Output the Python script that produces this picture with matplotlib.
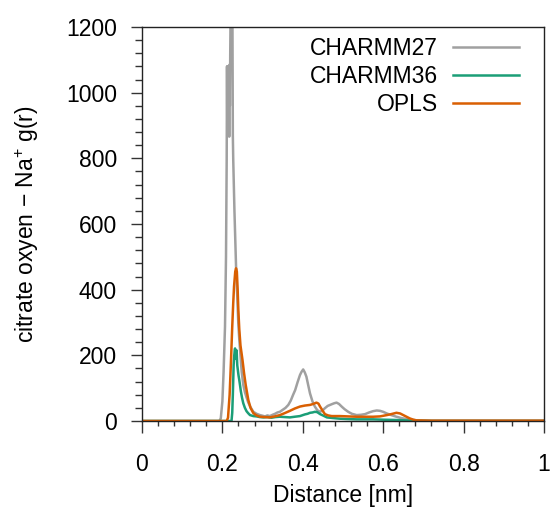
import matplotlib
matplotlib.use("Agg")
from matplotlib import pyplot as plt
from matplotlib.ticker import MultipleLocator, FormatStrFormatter

plt.rcParams['font.family'] = ['Liberation Sans', 'DejaVu Sans']
plt.rcParams['mathtext.default'] = 'regular'

# CHARMM27
c27_x = [0.0, 0.10, 0.18, 0.1925, 0.196, 0.200, 0.203, 0.2065, 0.209, 0.2107, 0.2115, 0.2122,
         0.2130, 0.2138, 0.2146, 0.2154, 0.2162, 0.2170, 0.2178, 0.2186, 0.2195, 0.2205, 0.2215,
         0.2225, 0.2238, 0.2250, 0.2260, 0.2270, 0.2300, 0.2340, 0.2370, 0.2395, 0.2421, 0.2450,
         0.248, 0.252, 0.256, 0.260, 0.2645, 0.270, 0.277, 0.285, 0.2935, 0.300, 0.306, 0.312,
         0.318, 0.325, 0.331, 0.337, 0.343, 0.350, 0.357, 0.364, 0.370, 0.376, 0.381, 0.387,
         0.393, 0.397, 0.401, 0.405, 0.409, 0.413, 0.418, 0.424, 0.430, 0.436, 0.443, 0.449,
         0.455, 0.462, 0.4718, 0.478, 0.484, 0.490, 0.4967, 0.504, 0.513, 0.522, 0.534, 0.545,
         0.555, 0.565, 0.575, 0.584, 0.592, 0.600, 0.609, 0.620, 0.633, 0.645, 0.658, 0.670,
         0.683, 0.72, 0.80, 0.90, 1.0]
c27_y = [0, 0, 0, 0, 8, 60, 150, 287, 500, 795, 1080, 900, 1080, 880, 1075, 870, 1070, 866, 1085,
         960, 1120, 1250, 1260, 1250, 1240, 1230, 870, 795, 640, 470, 380, 300, 247, 200, 150, 110,
         88, 72, 56, 42, 28, 22, 18, 16, 14, 17, 15, 19, 22, 26, 28, 34, 40, 49, 62, 80, 94, 118,
         140, 150, 157, 148, 135, 112, 84, 60, 44, 33, 28, 32, 39, 46, 51, 54, 56, 52, 44, 36,
         28, 22, 18, 19, 21, 26, 30, 32, 31, 28, 23, 18, 13, 9, 6, 4, 2, 1, 1, 1, 1]

# CHARMM36
c36_x = [0.0, 0.10, 0.20, 0.2227, 0.2245, 0.226, 0.228, 0.2295, 0.2315, 0.2325, 0.2340, 0.2355,
         0.2370, 0.2385, 0.2400, 0.2420, 0.2440, 0.2460, 0.249, 0.252, 0.256, 0.260, 0.264,
         0.2687, 0.277, 0.285, 0.293, 0.302, 0.312, 0.322, 0.332, 0.343, 0.355, 0.368, 0.380,
         0.393, 0.405, 0.412, 0.418, 0.424, 0.430, 0.436, 0.443, 0.450, 0.460, 0.475, 0.4925,
         0.510, 0.534, 0.555, 0.575, 0.600, 0.633, 0.655, 0.675, 0.72, 0.80, 0.90, 1.0]
c36_y = [0, 0, 0, 0, 25, 80, 170, 200, 221, 190, 205, 215, 170, 155, 140, 125, 108, 90, 70, 54,
         40, 30, 24, 18, 15, 14, 12, 11, 12, 10, 12, 13, 12, 11, 13, 15, 20, 22, 25, 26, 28, 27,
         21, 17, 11, 9, 7, 6, 5, 5, 5, 4, 3, 2, 1, 0, 0, 0, 0]

# OPLS
opls_x = [0.0, 0.10, 0.20, 0.2107, 0.214, 0.218, 0.221, 0.2245, 0.227, 0.229, 0.232, 0.234,
          0.236, 0.238, 0.2397, 0.2420, 0.2450, 0.250, 0.254, 0.258, 0.2645, 0.270, 0.277,
          0.285, 0.2935, 0.305, 0.318, 0.330, 0.343, 0.355, 0.368, 0.380, 0.393, 0.405, 0.418,
          0.426, 0.434, 0.439, 0.443, 0.449, 0.455, 0.463, 0.472, 0.4925, 0.513, 0.534, 0.555,
          0.575, 0.592, 0.609, 0.620, 0.633, 0.642, 0.650, 0.658, 0.666, 0.675, 0.683, 0.72,
          0.80, 0.90, 1.0]
opls_y = [0, 0, 0, 0, 10, 80, 170, 287, 360, 410, 455, 465, 455, 400, 338, 280, 230, 186, 145,
          110, 64, 40, 24, 17, 13, 12, 11, 14, 18, 24, 31, 38, 44, 47, 49, 52, 56, 53, 44, 32, 21,
          17, 15, 15, 14, 13, 13, 13, 14, 18, 21, 25, 23, 18, 13, 8, 4, 2, 1, 1, 1, 1]

labels = ['CHARMM27', 'CHARMM36', 'OPLS']
colors = ['#a0a0a0', '#1b9e77', '#d95f02']

fig = plt.figure(figsize=(5.54, 5.16), dpi=100)
ax = fig.add_axes([0.2563, 0.1841, 0.7256, 0.7636])

ax.plot(c27_x, c27_y, color=colors[0], lw=1.8, label=labels[0])
ax.plot(c36_x, c36_y, color=colors[1], lw=1.8, label=labels[1])
ax.plot(opls_x, opls_y, color=colors[2], lw=1.8, label=labels[2])

ax.set_xlim(0, 1)
ax.set_ylim(0, 1200)
ax.xaxis.set_major_locator(MultipleLocator(0.2))
ax.xaxis.set_minor_locator(MultipleLocator(0.04))
ax.yaxis.set_major_locator(MultipleLocator(200))
ax.yaxis.set_minor_locator(MultipleLocator(40))
ax.xaxis.set_major_formatter(FormatStrFormatter('%g'))

ax.tick_params(which='both', direction='out', top=False, right=False, labelsize=16.5,
               color='#333333', width=1)
ax.tick_params(axis='x', which='major', length=8.6, pad=14.5)
ax.tick_params(axis='x', which='minor', length=3.6)
ax.tick_params(axis='y', which='major', length=8, pad=10)
ax.tick_params(axis='y', which='minor', length=5)
for s in ax.spines.values():
    s.set_linewidth(1.0)
    s.set_color('#222222')

ax.set_xlabel('Distance [nm]', fontsize=16.5, labelpad=5.5)
ax.set_ylabel('citrate oxyen \u2212 Na$^{+}$ g(r)', fontsize=16.5, labelpad=18)

ax.legend(loc='upper right', bbox_to_anchor=(0.938, 0.975), frameon=False, markerfirst=False,
          fontsize=16.5, handlelength=2.9, handletextpad=0.65, labelspacing=0.22,
          borderaxespad=0, borderpad=0)

fig.savefig('out.png', dpi=100)
